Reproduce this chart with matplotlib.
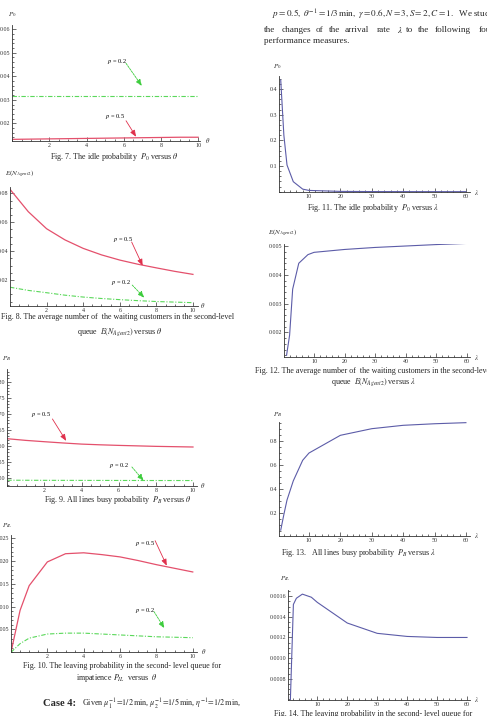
import matplotlib.pyplot as plt
from matplotlib.ticker import MultipleLocator

plt.rcParams['font.family'] = ['Liberation Serif', 'DejaVu Serif']
plt.rcParams['mathtext.fontset'] = 'stix'

W, H = 487, 716

# values
theta = [0, 1, 2, 3, 4, 5, 6, 7, 8, 9, 10]
theta_il = [0, 0.5, 1, 2, 3, 4, 5, 6, 7, 8, 9, 10]
lam = [1, 2, 3, 5, 8, 10, 20, 30, 40, 50, 60]

# Fig 7: idle probability P0 vs theta
p0_th_05 = [0.0132, 0.0133, 0.0134, 0.0135, 0.0136, 0.0137, 0.0138, 0.0139, 0.0140, 0.0141, 0.0141]
p0_th_02 = [0.0316, 0.0316, 0.0316, 0.0316, 0.0316, 0.0316, 0.0316, 0.0316, 0.0316, 0.0316, 0.0316]
# Fig 8: E(N_Agent2) vs theta
en_th_05 = [0.0828, 0.0673, 0.0555, 0.0478, 0.0419, 0.0374, 0.0338, 0.0309, 0.0284, 0.0260, 0.0239]
en_th_02 = [0.0150, 0.0128, 0.0112, 0.0095, 0.0082, 0.0072, 0.0064, 0.0057, 0.0051, 0.0047, 0.0043]
# Fig 9: all lines busy P_B vs theta
pb_th_05 = [0.6227, 0.6175, 0.6134, 0.6095, 0.6060, 0.6038, 0.6020, 0.6005, 0.5990, 0.5980, 0.5970]
pb_th_02 = [0.4940, 0.4938, 0.4936, 0.4935, 0.4934, 0.4933, 0.4932, 0.4931, 0.4930, 0.4930, 0.4929]
# Fig 10: leaving probability P_IL vs theta
pil_th_05 = [0.0, 0.0092, 0.0146, 0.0198, 0.0216, 0.0218, 0.0214, 0.0209, 0.0201, 0.0192, 0.0184, 0.0176]
pil_th_02 = [0.0, 0.0019, 0.0031, 0.0040, 0.0042, 0.0042, 0.0040, 0.0038, 0.0036, 0.0034, 0.0033, 0.0032]
# Figs 11-14: measures vs lambda
p0_lam = [0.435, 0.22, 0.104, 0.039, 0.010, 0.005, 0.0012, 0.0005, 0.0003, 0.0002, 0.0001]
en_lam = [0.0012, 0.0019, 0.0035, 0.0044, 0.0047, 0.00478, 0.00488, 0.00495, 0.00500, 0.00505, 0.00509]
pb_lam = [0.06, 0.19, 0.31, 0.469, 0.640, 0.700, 0.847, 0.902, 0.930, 0.943, 0.952]
pil_lam = [0.0006, 0.00152, 0.00158, 0.00162, 0.00159, 0.00154, 0.00134, 0.00124, 0.00121, 0.00120, 0.00120]

RED = '#e4506c'
GREEN = '#5ad85a'
BLUE = '#5c5ca8'
INK = '#262626'

fig = plt.figure(figsize=(W / 100, H / 100), dpi=100)


def px_axes(left, top, right, bottom):
    return fig.add_axes([left / W, 1 - bottom / H, (right - left) / W, (bottom - top) / H])


def ptext(x, y, s, **kw):
    kw.setdefault('va', 'center')
    kw.setdefault('color', INK)
    fig.text(x / W, 1 - y / H, s, **kw)


def style(ax, xlim, ylim, xticks, xminor, yticks, yfmt, yminor):
    ax.set_xlim(xlim)
    ax.set_ylim(ylim)
    ax.patch.set_alpha(0)
    for s in ('top', 'right'):
        ax.spines[s].set_visible(False)
    for s in ('left', 'bottom'):
        ax.spines[s].set_linewidth(0.6)
        ax.spines[s].set_color('#333333')
    ax.set_xticks(xticks)
    ax.set_xticklabels([str(t) for t in xticks])
    ax.set_yticks(yticks)
    ax.set_yticklabels([yfmt.format(t) for t in yticks])
    ax.xaxis.set_minor_locator(MultipleLocator(xminor))
    ax.yaxis.set_minor_locator(MultipleLocator(yminor))
    ax.tick_params(which='both', direction='in', width=0.5, color='#333333',
                   labelcolor='#333333', labelsize=4.3, pad=1.5)
    ax.tick_params(which='major', length=2.6)
    ax.tick_params(which='minor', length=1.3)


def arrow(ax, start, tip, color, dashed=False):
    ax.annotate('', xy=tip, xytext=start,
                arrowprops=dict(arrowstyle='-|>,head_length=0.55,head_width=0.22',
                                color=color, lw=0.6, shrinkA=0, shrinkB=0,
                                linestyle=(0, (2.5, 1.2)) if dashed else '-',
                                mutation_scale=7))


def two_lines(ax, x, y05, y02):
    ax.plot(x, y05, color=RED, lw=0.9)
    ax.plot(x, y02, color=GREEN, lw=0.8, dashes=(4, 1.5, 1, 1.5))


lab = dict(fontsize=4.6)

### Fig 7 ###
ax = px_axes(12.3, 25, 200, 141)
two_lines(ax, theta, p0_th_05, p0_th_02)
style(ax, (0, 10.1), (0.0125, 0.0618), [2, 4, 6, 8, 10], 0.5,
      [0.02, 0.03, 0.04, 0.05, 0.06], '{:.2f}', 0.002)
ax.text(5.64, 0.0462, '$p$ = 0.2', ha='center', va='center', **lab)
arrow(ax, (6.12, 0.0455), (6.97, 0.0359), '#3ccc3c', dashed=True)
ax.text(5.55, 0.0228, '$p$ = 0.5', ha='center', va='center', **lab)
arrow(ax, (6.12, 0.0211), (6.66, 0.0143), '#e0304c')
ptext(12.5, 15, '$P_0$', ha='center', fontsize=5)
ptext(205, 140.7, r'$\theta$', ha='left', fontsize=4.8)
ptext(114.7, 157, r'Fig. 7. The idle probability  $P_0$ versus $\theta$', ha='center', fontsize=5.8)

### Fig 8 ###
ax = px_axes(10, 186.7, 197.7, 306)
two_lines(ax, theta, en_th_05, en_th_02)
style(ax, (0, 10.26), (0.002, 0.0846), [2, 4, 6, 8, 10], 0.5,
      [0.02, 0.04, 0.06, 0.08], '{:.2f}', 0.005)
ax.text(6.17, 0.0482, '$p$ = 0.5', ha='center', va='center', **lab)
arrow(ax, (6.65, 0.0463), (7.25, 0.0299), '#e0304c')
ax.text(6.09, 0.0181, '$p$ = 0.2', ha='center', va='center', **lab)
arrow(ax, (6.68, 0.0165), (7.34, 0.00775), '#3ccc3c', dashed=True)
ptext(34, 174, r'$E(N_{Agent2})$', ha='right', fontsize=5)
ptext(200.5, 305.7, r'$\theta$', ha='left', fontsize=4.8)
ptext(1, 316.7, 'Fig. 8. The average number of  the waiting customers in the second-level',
      ha='left', fontsize=5.8)
ptext(120, 332.3, r'queue  $E(N_{Agent2})$ versus $\theta$', ha='center', fontsize=5.8)

### Fig 9 ###
ax = px_axes(7.3, 369, 196.7, 486)
two_lines(ax, theta, pb_th_05, pb_th_02)
style(ax, (0, 10.2), (0.476, 0.839), [2, 4, 6, 8, 10], 0.5,
      [0.50, 0.55, 0.60, 0.65, 0.70, 0.75, 0.80], '{:.2f}', 0.01)
ax.text(1.83, 0.699, '$p$ = 0.5', ha='center', va='center', **lab)
arrow(ax, (2.43, 0.684), (3.17, 0.616), '#e0304c')
ax.text(6.01, 0.539, '$p$ = 0.2', ha='center', va='center', **lab)
arrow(ax, (6.71, 0.535), (7.34, 0.4925), '#3ccc3c', dashed=True)
ptext(6.7, 358.3, '$P_B$', ha='center', fontsize=5)
ptext(200.5, 485, r'$\theta$', ha='left', fontsize=4.8)
ptext(117.5, 500, r'Fig. 9. All lines busy probability  $P_B$ versus $\theta$', ha='center', fontsize=5.8)

### Fig 10 ###
ax = px_axes(11, 535, 197.3, 652.3)
two_lines(ax, theta_il, pil_th_05, pil_th_02)
style(ax, (0, 10.25), (0, 0.0257), [2, 4, 6, 8, 10], 0.5,
      [0.005, 0.010, 0.015, 0.020, 0.025], '{:.3f}', 0.001)
ax.text(7.37, 0.02388, '$p$ = 0.5', ha='center', va='center', **lab)
arrow(ax, (7.93, 0.02445), (8.57, 0.01897), '#e0304c')
ax.text(7.37, 0.00911, '$p$ = 0.2', ha='center', va='center', **lab)
arrow(ax, (7.87, 0.0089), (8.44, 0.00526), '#3ccc3c', dashed=True)
ptext(7.5, 526, '$P_{IL}$', ha='center', fontsize=5)
ptext(201, 651.7, r'$\theta$', ha='left', fontsize=4.8)
ptext(122.5, 666, 'Fig. 10. The leaving probability in the second- level queue for', ha='center', fontsize=5.8)
ptext(116.7, 677.7, r'impatience $P_{IL}$  versus  $\theta$', ha='center', fontsize=5.8)
ptext(43.3, 704, 'Case 4:', ha='left', fontsize=7.6, fontweight='bold')
ptext(81.5, 704, r'Given $\mu_1^{-1}\!=\!1/2\,\mathrm{min}$, $\mu_2^{-1}\!=\!1/5\,\mathrm{min}$, $\eta^{-1}\!=\!1/2\,\mathrm{min}$,',
      ha='left', fontsize=5.9)

### right column text ###
ptext(272, 15, r'$p=0.5,\ \theta^{-1}=1/3\,\mathrm{min},\ \gamma=0.6,N=3,S=2,C=1.$  We study',
      ha='left', fontsize=6.6)
line2 = [('the', 264.3), ('changes', 281.7), ('of', 316), ('the', 329), ('arrival', 345),
         ('rate', 376.7), (r'$\lambda$', 396.7), ('to', 406), ('the', 418.3),
         ('following', 435), ('four', 478.3)]
for w, x in line2:
    ptext(x, 30, w, ha='left', fontsize=6.6)
ptext(264.3, 41, 'performance measures.', ha='left', fontsize=6.6)

### Fig 11 ###
ax = px_axes(279, 75.7, 470, 191.7)
ax.plot(lam, p0_lam, color=BLUE, lw=0.8)
style(ax, (0.45, 61.3), (0, 0.452), [10, 20, 30, 40, 50, 60], 2,
      [0.1, 0.2, 0.3, 0.4], '{:.1f}', 0.02)
ptext(277.7, 66.7, '$P_0$', ha='center', fontsize=5)
ptext(474, 192.7, r'$\lambda$', ha='left', fontsize=4.8)
ptext(373.3, 208, r'Fig. 11. The idle probability  $P_0$ versus $\lambda$', ha='center', fontsize=5.8)

### Fig 12 ###
ax = px_axes(284.3, 244, 470, 357.3)
ax.plot(lam, en_lam, color=BLUE, lw=0.8)
style(ax, (0.26, 61.1), (0.00113, 0.00507), [10, 20, 30, 40, 50, 60], 2,
      [0.002, 0.003, 0.004, 0.005], '{:.3f}', 0.0002)
ptext(283, 232.3, r'$E(N_{Agent2})$', ha='center', fontsize=5)
ptext(474, 357.3, r'$\lambda$', ha='left', fontsize=4.8)
ptext(255, 371, 'Fig. 12. The average number of  the waiting customers in the second-level',
      ha='left', fontsize=5.8)
ptext(373.3, 382.3, r'queue  $E(N_{Agent2})$ versus $\lambda$', ha='center', fontsize=5.8)

### Fig 13 ###
ax = px_axes(279, 421.7, 470, 535.7)
ax.plot(lam, pb_lam, color=BLUE, lw=0.8)
style(ax, (0.45, 61.3), (0.014, 0.96), [10, 20, 30, 40, 50, 60], 2,
      [0.2, 0.4, 0.6, 0.8], '{:.1f}', 0.05)
ptext(277.3, 414.7, '$P_B$', ha='center', fontsize=5)
ptext(474, 535.7, r'$\lambda$', ha='left', fontsize=4.8)
ptext(358.7, 553.3, r'Fig. 13.   All lines busy probability  $P_B$ versus $\lambda$', ha='center', fontsize=5.8)

### Fig 14 ###
ax = px_axes(288.3, 590, 470, 700)
ax.plot(lam, pil_lam, color=BLUE, lw=0.8)
style(ax, (0.3, 61.0), (0.000594, 0.00166), [10, 20, 30, 40, 50, 60], 2,
      [0.0008, 0.0010, 0.0012, 0.0014, 0.0016], '{:.4f}', 0.00005)
ptext(285.7, 578.3, '$P_{IL}$', ha='center', fontsize=5)
ptext(474, 700, r'$\lambda$', ha='left', fontsize=4.8)
ptext(373.3, 714, 'Fig. 14. The leaving probability in the second- level queue for', ha='center', fontsize=5.8)

fig.savefig('out.png', dpi=100)
